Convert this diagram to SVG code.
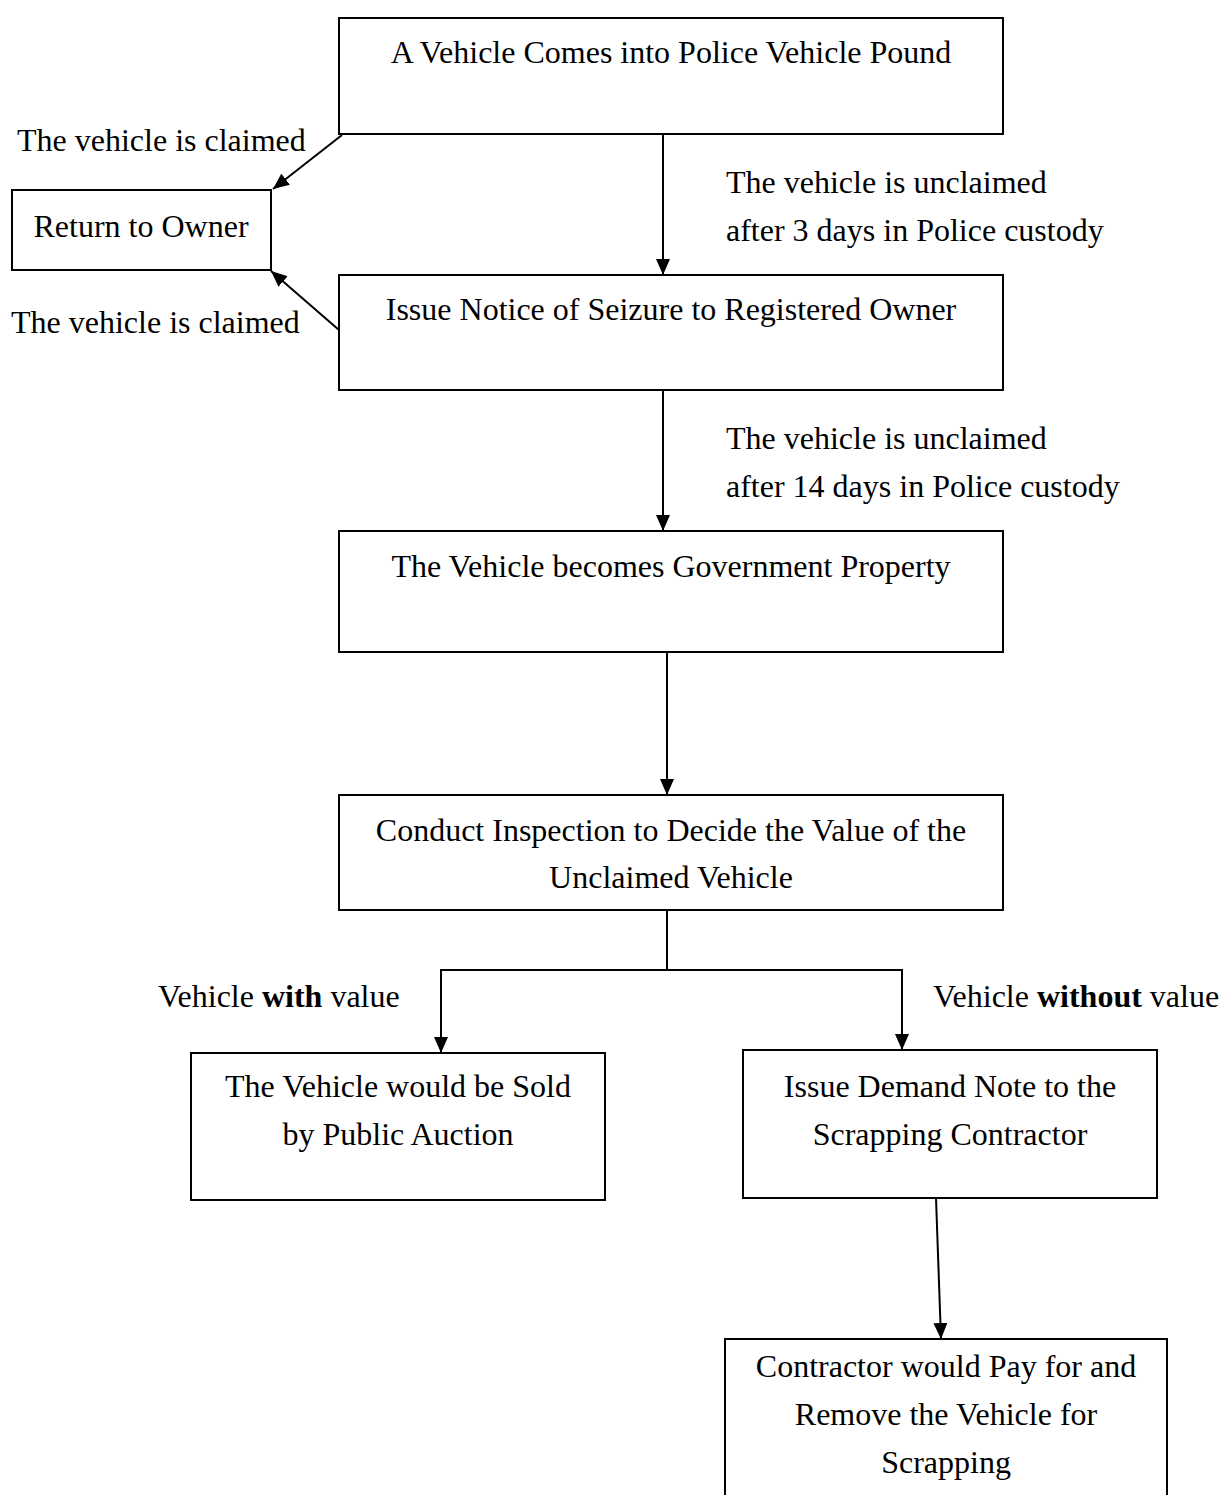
<svg xmlns="http://www.w3.org/2000/svg" width="1221" height="1495" viewBox="0 0 1221 1495">
<style>
.box{fill:#fff;stroke:#000;stroke-width:2}
.t{font-family:"Liberation Serif","Times New Roman",serif;font-size:32px;fill:#000}
.c{text-anchor:middle}
.ln{stroke:#000;stroke-width:2;fill:none}
</style>
<defs>
<marker id="ah" viewBox="0 0 16 14" refX="16" refY="7" markerWidth="16" markerHeight="14" markerUnits="userSpaceOnUse" orient="auto">
<path d="M0,0 L16,7 L0,14 Z" fill="#000"/>
</marker>
</defs>
<rect width="1221" height="1495" fill="#fff"/>
<g id="connectors">
<line class="ln" x1="663" y1="134" x2="663" y2="275" marker-end="url(#ah)"/>
<line class="ln" x1="663" y1="390" x2="663" y2="531" marker-end="url(#ah)"/>
<line class="ln" x1="667" y1="652" x2="667" y2="795" marker-end="url(#ah)"/>
<line class="ln" x1="342" y1="135" x2="273" y2="189" marker-end="url(#ah)"/>
<line class="ln" x1="339" y1="330" x2="271" y2="271" marker-end="url(#ah)"/>
<line class="ln" x1="667" y1="910" x2="667" y2="970"/>
<line class="ln" x1="440" y1="970" x2="903" y2="970"/>
<line class="ln" x1="441" y1="969" x2="441" y2="1053" marker-end="url(#ah)"/>
<line class="ln" x1="902" y1="969" x2="902" y2="1050" marker-end="url(#ah)"/>
<line class="ln" x1="936" y1="1198" x2="941" y2="1339" marker-end="url(#ah)"/>
<text class="t" x="17" y="151">The vehicle is claimed</text>
<text class="t" x="11" y="333">The vehicle is claimed</text>
<text class="t" x="726" y="193">The vehicle is unclaimed</text>
<text class="t" x="726" y="241">after 3 days in Police custody</text>
<text class="t" x="726" y="449">The vehicle is unclaimed</text>
<text class="t" x="726" y="497">after 14 days in Police custody</text>
<text class="t" x="158" y="1007">Vehicle <tspan font-weight="bold">with</tspan> value</text>
<text class="t" x="933" y="1007">Vehicle <tspan font-weight="bold">without</tspan> value</text>
</g>
<g id="n1"><rect class="box" x="339" y="18" width="664" height="116"/><text class="t c" x="671" y="63">A Vehicle Comes into Police Vehicle Pound</text></g>
<g id="n_return"><rect class="box" x="12" y="190" width="259" height="80"/><text class="t c" x="141" y="237">Return to Owner</text></g>
<g id="n2"><rect class="box" x="339" y="275" width="664" height="115"/><text class="t c" x="671" y="320">Issue Notice of Seizure to Registered Owner</text></g>
<g id="n3"><rect class="box" x="339" y="531" width="664" height="121"/><text class="t c" x="671" y="577">The Vehicle becomes Government Property</text></g>
<g id="n4"><rect class="box" x="339" y="795" width="664" height="115"/><text class="t c" x="671" y="841">Conduct Inspection to Decide the Value of the</text><text class="t c" x="671" y="888">Unclaimed Vehicle</text></g>
<g id="n5"><rect class="box" x="191" y="1053" width="414" height="147"/><text class="t c" x="398" y="1097">The Vehicle would be Sold</text><text class="t c" x="398" y="1145">by Public Auction</text></g>
<g id="n6"><rect class="box" x="743" y="1050" width="414" height="148"/><text class="t c" x="950" y="1097">Issue Demand Note to the</text><text class="t c" x="950" y="1145">Scrapping Contractor</text></g>
<g id="n7"><rect class="box" x="725" y="1339" width="442" height="170"/><text class="t c" x="946" y="1377">Contractor would Pay for and</text><text class="t c" x="946" y="1425">Remove the Vehicle for</text><text class="t c" x="946" y="1473">Scrapping</text></g>
</svg>
